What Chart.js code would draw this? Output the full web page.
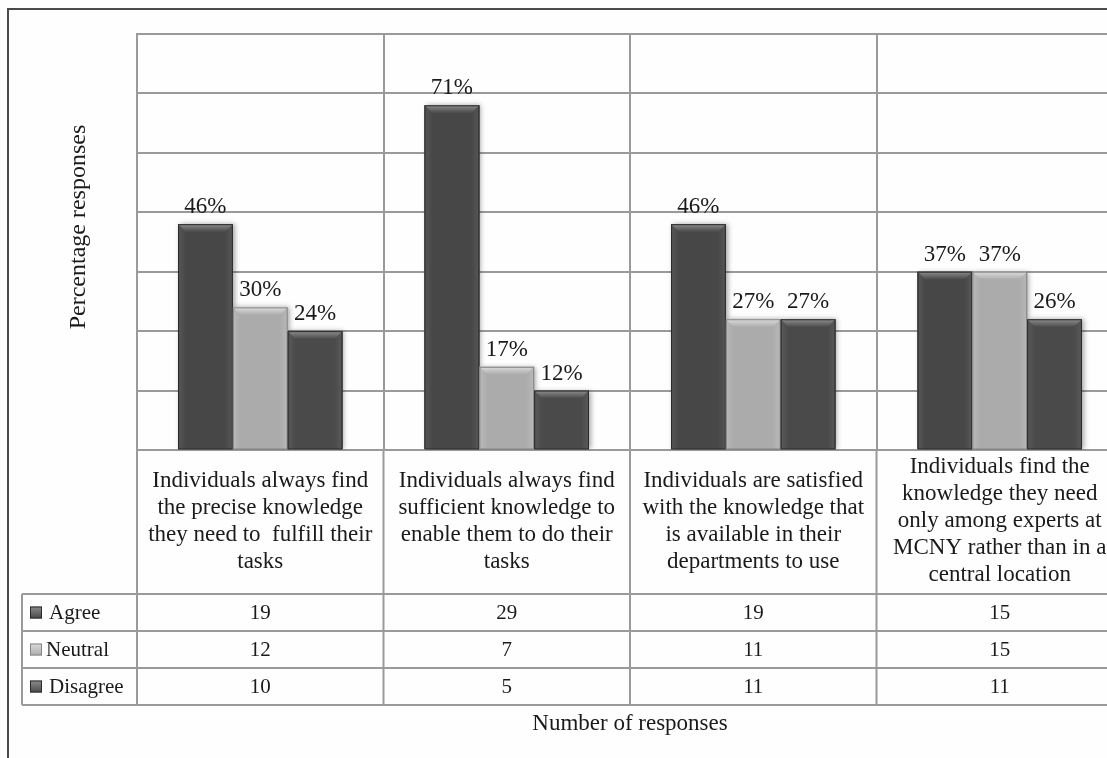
<!DOCTYPE html>
<html>
<head>
<meta charset="utf-8">
<script src="https://cdn.jsdelivr.net/npm/chart.js@4/dist/chart.umd.min.js"></script>
<style>
  html, body { margin: 0; padding: 0; background: #fefefe; overflow: hidden; }
  #wrap { position: relative; width: 1107px; height: 758px; overflow: hidden; }
  canvas { display: block; }
</style>
</head>
<body>
<div id="wrap"><canvas id="chart" width="1130" height="758"></canvas></div>
<script>
// Survey statements (category axis), already broken into the lines shown in the table header
const categories = [
  ['Individuals always find', 'the precise knowledge', 'they need to  fulfill their', 'tasks'],
  ['Individuals always find', 'sufficient knowledge to', 'enable them to do their', 'tasks'],
  ['Individuals are satisfied', 'with the knowledge that', 'is available in their', 'departments to use'],
  ['Individuals find the', 'knowledge they need', 'only among experts at', 'MCNY rather than in a', 'central location']
];

// Number of responses per answer
const seriesNames = ['Agree', 'Neutral', 'Disagree'];
const agree    = [19, 29, 19, 15];
const neutral  = [12, 7, 11, 15];
const disagree = [10, 5, 11, 11];

// Share of responses printed above each bar
const agreePct    = ['46%', '71%', '46%', '37%'];
const neutralPct  = ['30%', '17%', '27%', '37%'];
const disagreePct = ['24%', '12%', '27%', '26%'];

const yAxisTitle = 'Percentage responses';
const xAxisTitle = 'Number of responses';

const FONT = '"Liberation Serif", "Times New Roman", serif';
const W = 1130, H = 758;
const PLOT = { left: 137, top: 34, right: 1123, bottom: 450 };
const TABLE_ROWS = [594, 631, 668, 705];   // horizontal rules of the data table
const LEGEND_LEFT = 22;
const GRID = '#9a9a9a';

const palette = [
  { base: '#474747', light: '#8c8c8c', side: '#575757', edge: '#2a2a2a' },
  { base: '#ababab', light: '#dcdcdc', side: '#b9b9b9', edge: '#858585' },
  { base: '#4a4a4a', light: '#8e8e8e', side: '#5a5a5a', edge: '#2a2a2a' }
];
const seriesValues = [agree, neutral, disagree];
const seriesPct = [agreePct, neutralPct, disagreePct];

function barGeom(el) {
  const p = el.getProps(['x', 'y', 'width', 'base'], true);
  return { l: p.x - p.width / 2, r: p.x + p.width / 2, t: p.y, b: p.base, cx: p.x };
}

function drawBevel(ctx, g, c) {
  const d = Math.min(8, (g.b - g.t) / 2);
  ctx.save();
  // left and right edge facets
  let lg = ctx.createLinearGradient(g.l, 0, g.l + d, 0);
  lg.addColorStop(0, c.side); lg.addColorStop(1, c.base);
  ctx.fillStyle = lg;
  ctx.beginPath();
  ctx.moveTo(g.l, g.t); ctx.lineTo(g.l + d, g.t + d); ctx.lineTo(g.l + d, g.b); ctx.lineTo(g.l, g.b);
  ctx.closePath(); ctx.fill();
  let rg = ctx.createLinearGradient(g.r - d, 0, g.r, 0);
  rg.addColorStop(0, c.base); rg.addColorStop(1, c.side);
  ctx.fillStyle = rg;
  ctx.beginPath();
  ctx.moveTo(g.r, g.t); ctx.lineTo(g.r - d, g.t + d); ctx.lineTo(g.r - d, g.b); ctx.lineTo(g.r, g.b);
  ctx.closePath(); ctx.fill();
  // top facet
  let tg = ctx.createLinearGradient(0, g.t, 0, g.t + d);
  tg.addColorStop(0, c.light); tg.addColorStop(1, c.base);
  ctx.fillStyle = tg;
  ctx.beginPath();
  ctx.moveTo(g.l, g.t); ctx.lineTo(g.r, g.t); ctx.lineTo(g.r - d, g.t + d); ctx.lineTo(g.l + d, g.t + d);
  ctx.closePath(); ctx.fill();
  // outline
  ctx.strokeStyle = c.edge;
  ctx.lineWidth = 1;
  ctx.strokeRect(g.l + 0.5, g.t + 0.5, g.r - g.l - 1, g.b - g.t - 0.5);
  ctx.restore();
}

const framePlugin = {
  id: 'frameAndTable',
  beforeDraw(chart) {
    const ctx = chart.ctx;
    ctx.save();
    ctx.fillStyle = '#fefefe';
    ctx.fillRect(0, 0, W, H);
    ctx.strokeStyle = '#4a4a4a';
    ctx.lineWidth = 2;
    ctx.beginPath();
    ctx.moveTo(8, H + 5); ctx.lineTo(8, 9); ctx.lineTo(W + 5, 9);
    ctx.stroke();
    ctx.restore();
  },
  beforeDatasetsDraw(chart) {
    // soft drop shadow behind every bar
    const ctx = chart.ctx;
    ctx.save();
    ctx.beginPath();
    ctx.rect(chart.chartArea.left, 0, chart.chartArea.right - chart.chartArea.left, chart.chartArea.bottom);
    ctx.clip();
    chart.data.datasets.forEach((ds, di) => {
      chart.getDatasetMeta(di).data.forEach(el => {
        const g = barGeom(el);
        ctx.shadowColor = 'rgba(0,0,0,0.35)';
        ctx.shadowBlur = 5;
        ctx.shadowOffsetX = 2;
        ctx.shadowOffsetY = 0;
        ctx.fillStyle = palette[di].base;
        ctx.fillRect(g.l, g.t, g.r - g.l, g.b - g.t);
      });
    });
    ctx.restore();
  },
  afterDatasetsDraw(chart) {
    const ctx = chart.ctx;
    chart.data.datasets.forEach((ds, di) => {
      chart.getDatasetMeta(di).data.forEach(el => drawBevel(ctx, barGeom(el), palette[di]));
    });
    // percentage labels above the bars
    ctx.save();
    ctx.fillStyle = '#1a1a1a';
    ctx.font = '23px ' + FONT;
    ctx.textAlign = 'center';
    ctx.textBaseline = 'alphabetic';
    chart.data.datasets.forEach((ds, di) => {
      chart.getDatasetMeta(di).data.forEach((el, i) => {
        const g = barGeom(el);
        ctx.fillText(seriesPct[di][i], g.cx, g.t - 11);
      });
    });
    ctx.restore();
  },
  afterDraw(chart) {
    const ctx = chart.ctx;
    const xs = chart.scales.x;
    const area = chart.chartArea;
    const n = categories.length;
    const colW = (area.right - area.left) / n;
    ctx.save();
    ctx.strokeStyle = GRID;
    ctx.lineWidth = 2;
    // column separators through header and table
    ctx.beginPath();
    for (let i = 0; i <= n; i++) {
      const x = area.left + i * colW;
      ctx.moveTo(x, area.bottom); ctx.lineTo(x, TABLE_ROWS[TABLE_ROWS.length - 1]);
    }
    // table rows
    TABLE_ROWS.forEach(y => { ctx.moveTo(LEGEND_LEFT, y); ctx.lineTo(area.right, y); });
    ctx.moveTo(LEGEND_LEFT, TABLE_ROWS[0]); ctx.lineTo(LEGEND_LEFT, TABLE_ROWS[TABLE_ROWS.length - 1]);
    ctx.stroke();

    // category header text
    ctx.fillStyle = '#1a1a1a';
    ctx.textAlign = 'center';
    ctx.textBaseline = 'middle';
    ctx.font = '23px ' + FONT;
    const lineH = 27;
    const headMid = (area.bottom + TABLE_ROWS[0]) / 2 - 1;
    categories.forEach((lines, i) => {
      const cx = xs.getPixelForValue(i);
      const y0 = headMid - (lines.length - 1) * lineH / 2;
      lines.forEach((ln, k) => ctx.fillText(ln, cx, y0 + k * lineH));
    });

    // table values and legend keys
    ctx.font = '21px ' + FONT;
    seriesNames.forEach((name, r) => {
      const cy = (TABLE_ROWS[r] + TABLE_ROWS[r + 1]) / 2;
      seriesValues[r].forEach((v, i) => {
        ctx.textAlign = 'center';
        ctx.fillText(String(v), xs.getPixelForValue(i), cy + 1);
      });
      // legend swatch
      const c = palette[r];
      const sg = ctx.createLinearGradient(0, cy - 6, 0, cy + 6);
      sg.addColorStop(0, c.light); sg.addColorStop(1, c.base);
      ctx.fillStyle = sg;
      ctx.fillRect(30, cy - 6, 12, 12);
      ctx.strokeStyle = c.edge;
      ctx.lineWidth = 1;
      ctx.strokeRect(30.5, cy - 5.5, 11, 11);
      ctx.fillStyle = '#1a1a1a';
      ctx.textAlign = 'left';
      ctx.fillText(name, name === 'Neutral' ? 46 : 49, cy + 1);
    });

    // axis titles
    ctx.font = '23px ' + FONT;
    ctx.textAlign = 'center';
    ctx.fillText(xAxisTitle, (area.left + area.right) / 2, 724);
    ctx.save();
    ctx.font = '24px ' + FONT;
    ctx.translate(79, 227);
    ctx.rotate(-Math.PI / 2);
    ctx.fillText(yAxisTitle, 0, 0);
    ctx.restore();
    ctx.restore();
  }
};

new Chart(document.getElementById('chart'), {
  type: 'bar',
  data: {
    labels: categories.map(c => c.join(' ')),
    datasets: seriesNames.map((name, i) => ({
      label: name,
      data: seriesValues[i],
      backgroundColor: palette[i].base,
      borderWidth: 0,
      categoryPercentage: 0.667,
      barPercentage: 1.0
    }))
  },
  options: {
    responsive: false,
    animation: false,
    events: [],
    layout: { padding: { left: PLOT.left, top: PLOT.top, right: W - PLOT.right, bottom: H - PLOT.bottom } },
    plugins: { legend: { display: false }, tooltip: { enabled: false }, title: { display: false } },
    scales: {
      x: {
        offset: true,
        ticks: { display: false },
        grid: { display: true, offset: true, color: GRID, lineWidth: 2, drawTicks: false },
        border: { display: true, color: GRID, width: 2 },
        afterFit(s) { s.height = 0; }
      },
      y: {
        min: 0, max: 35,
        ticks: { display: false, stepSize: 5 },
        grid: { color: GRID, lineWidth: 2, drawTicks: false },
        border: { display: true, color: GRID, width: 2 },
        afterFit(s) { s.width = 0; }
      }
    }
  },
  plugins: [framePlugin]
});
</script>
</body>
</html>
